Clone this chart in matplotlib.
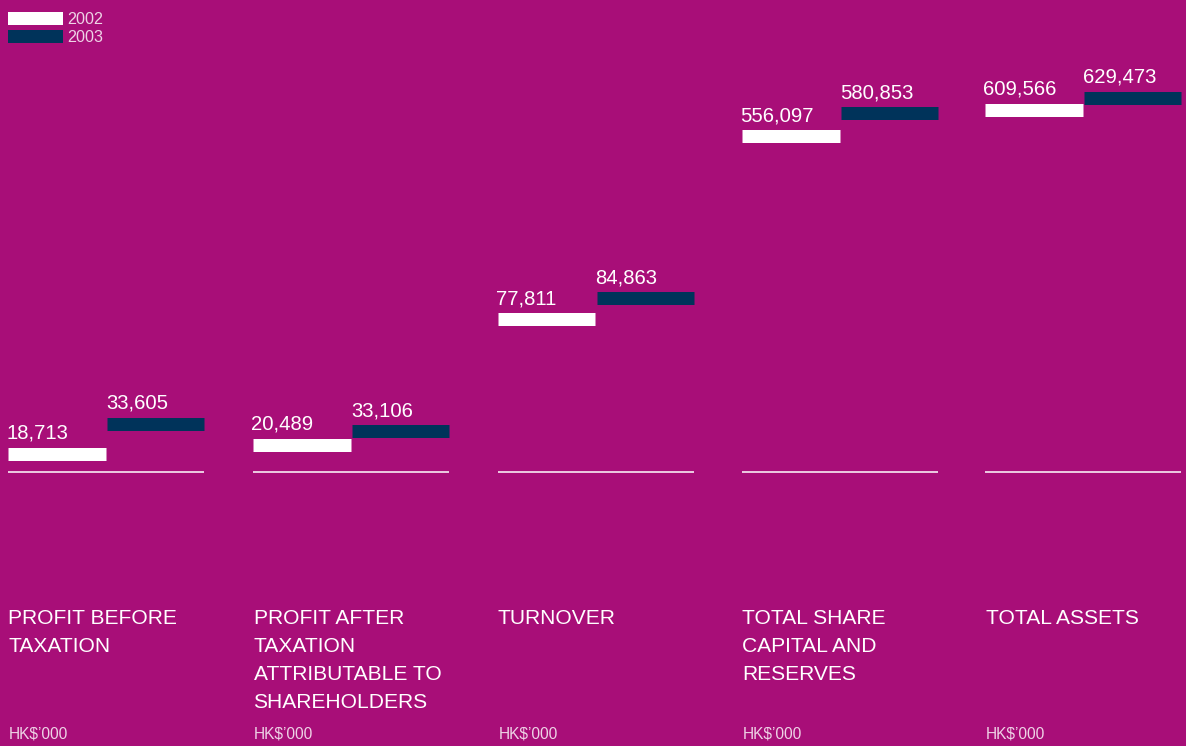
import matplotlib
matplotlib.use("Agg")
import matplotlib.pyplot as plt
from matplotlib.patches import Rectangle

# ---------------- data ----------------
categories = ["PROFIT BEFORE\nTAXATION",
              "PROFIT AFTER\nTAXATION\nATTRIBUTABLE TO\nSHAREHOLDERS",
              "TURNOVER",
              "TOTAL SHARE\nCAPITAL AND\nRESERVES",
              "TOTAL ASSETS"]
values_2002 = [18713, 20489, 77811, 556097, 609566]
values_2003 = [33605, 33106, 84863, 580853, 629473]
series_labels = ["2002", "2003"]
unit_label = "HK\\$\u2019000"

# per-panel value-axis limits (each panel is scaled on its own)
panel_ylims = [(9530, 223976), (-4745, 398993), (26602, 171666),
               (194961, 659966), (33069, 721044)]

# ---------------- style ----------------
BG = "#A80E78"
NAVY = "#00335A"
WHITE = "#FFFFFF"
SOFT = "#EED3E6"
FONT = ["Liberation Sans", "DejaVu Sans"]

W, H = 1186, 746
fig = plt.figure(figsize=(W / 100, H / 100), dpi=100, facecolor=BG)

panel_left = [8, 253, 497.5, 742, 985]
panel_w = 196
base_y = 472      # baseline (pixels from top)
top_y = 40
bar_lw = 13 * 72 / 100  # 13 px

def fx(px):
    return px / W

def fy(py):
    return 1 - py / H

for i, cat in enumerate(categories):
    ax = fig.add_axes([fx(panel_left[i]), fy(base_y), panel_w / W, (base_y - top_y) / H])
    ax.set_facecolor("none")
    ax.set_xlim(0, 2)
    ax.set_ylim(*panel_ylims[i])
    ax.axis("off")
    ymin = panel_ylims[i][0]
    ax.plot([0, 2], [ymin, ymin], color=WHITE, lw=1.1, solid_capstyle="butt", clip_on=False)
    v0, v1 = values_2002[i], values_2003[i]
    ax.plot([0, 0.995], [v0, v0], color=WHITE, lw=bar_lw, solid_capstyle="butt", clip_on=False)
    ax.plot([1.015, 2], [v1, v1], color=NAVY, lw=bar_lw, solid_capstyle="butt", clip_on=False)
    for xs, v in ((0, v0), (1.015, v1)):
        ax.annotate(f"{v:,}", xy=(xs, v), xytext=(-1.2, 11.0), textcoords="offset points",
                    ha="left", va="baseline", color=WHITE, fontsize=14.6,
                    family=FONT, annotation_clip=False)
    # category title
    fig.text(fx(panel_left[i] + 0.5), fy(608.5), cat, ha="left", va="top", color=WHITE,
             fontsize=15.1, family=FONT, linespacing=1.6)
    fig.text(fx(panel_left[i] + 1), fy(739), unit_label, ha="left", va="baseline",
             color=SOFT, fontsize=11.2, family=FONT)

# legend
for j, (col, lab) in enumerate(zip([WHITE, NAVY], series_labels)):
    y_top = 12 + j * 18
    fig.patches.append(Rectangle((fx(8), fy(y_top + 12.5)), 55 / W, 12.5 / H,
                                 transform=fig.transFigure, facecolor=col,
                                 edgecolor="none"))
    fig.text(fx(67), fy(y_top + 11.5), lab, ha="left", va="baseline", color=SOFT,
             fontsize=11.6, family=FONT)

fig.savefig("out.png", dpi=100, facecolor=BG)
